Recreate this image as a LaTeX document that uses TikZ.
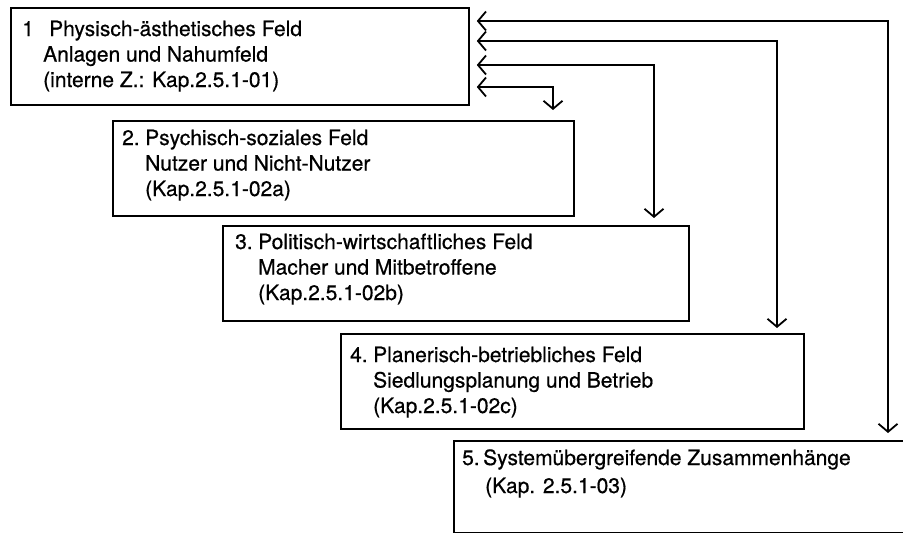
\documentclass[tikz,border=0pt]{standalone}
\usepackage{fontspec}
\setmainfont[FakeBold=0.6]{TeX Gyre Heros}
\usetikzlibrary{arrows.meta}
\newcommand\fieldtxt[1]{\parbox[t]{440pt}{\fontsize{21}{25.5}\selectfont\raggedright #1}}
\tikzset{
  box/.style={draw, line width=1.8pt, rectangle, anchor=north west, inner sep=0pt},
  txt/.style={anchor=base west, inner sep=0pt},
  conn/.style={line width=1.8pt, {Straight Barb[length=8pt,width=19pt]}-{Straight Barb[length=8pt,width=19pt]}, shorten <=7pt},
}
\begin{document}
\begin{tikzpicture}[x=1pt,y=-1pt]
\clip (0,0) rectangle (903,533);
\fill[white] (0,0) rectangle (903,533);
% boxes
\node[box, minimum width=458pt, minimum height=97pt] (b1) at (10,7) {};
\node[box, minimum width=461pt, minimum height=95pt] (b2) at (112,120) {};
\node[box, minimum width=466pt, minimum height=95pt] (b3) at (222,225) {};
\node[box, minimum width=463pt, minimum height=95pt] (b4) at (340,333) {};
\node[box, minimum width=480pt, minimum height=92pt] (b5) at (453,440) {};
% texts
\node[txt] (t1) at (22,36) {\fieldtxt{\makebox[27pt][l]{1}Physisch-ästhetisches Feld\\\hspace*{21pt}Anlagen und Nahumfeld\\\hspace*{21pt}(interne Z.: Kap.2.5.1-01)}};
\node[txt] (t2) at (122,145) {\fieldtxt{\makebox[23pt][l]{2.}Psychisch-soziales Feld\\\hspace*{23pt}Nutzer und Nicht-Nutzer\\\hspace*{23pt}(Kap.2.5.1-02a)}};
\node[txt] (t3) at (235,249) {\fieldtxt{\makebox[23pt][l]{3.}Politisch-wirtschaftliches Feld\\\hspace*{23pt}Macher und Mitbetroffene\\\hspace*{23pt}(Kap.2.5.1-02b)}};
\node[txt] (t4) at (350,362) {\fieldtxt{\makebox[23pt][l]{4.}Planerisch-betriebliches Feld\\\hspace*{23pt}Siedlungsplanung und Betrieb\\\hspace*{23pt}(Kap.2.5.1-02c)}};
\node[txt] (t5) at (462,465) {\parbox[t]{440pt}{\fontsize{21}{28}\selectfont\raggedright\makebox[21pt][l]{5.}Systemübergreifende Zusammenhänge\\\hspace*{23pt}(Kap. 2.5.1-03)}};
% connector corners
\coordinate (r1) at (888,21);
\coordinate (r2) at (777,41);
\coordinate (r3) at (654,65);
\coordinate (r4) at (553,87);
\draw[conn, shorten >=7pt] (b1.east |- r1) -- (r1) -- (r1 |- b5.north);
\draw[conn, shorten >=5pt] (b1.east |- r2) -- (r2) -- (r2 |- b4.north);
\draw[conn, shorten >=7pt] (b1.east |- r3) -- (r3) -- (r3 |- b3.north);
\draw[conn, shorten >=10pt] (b1.east |- r4) -- (r4) -- (r4 |- b2.north);
\end{tikzpicture}
\end{document}
